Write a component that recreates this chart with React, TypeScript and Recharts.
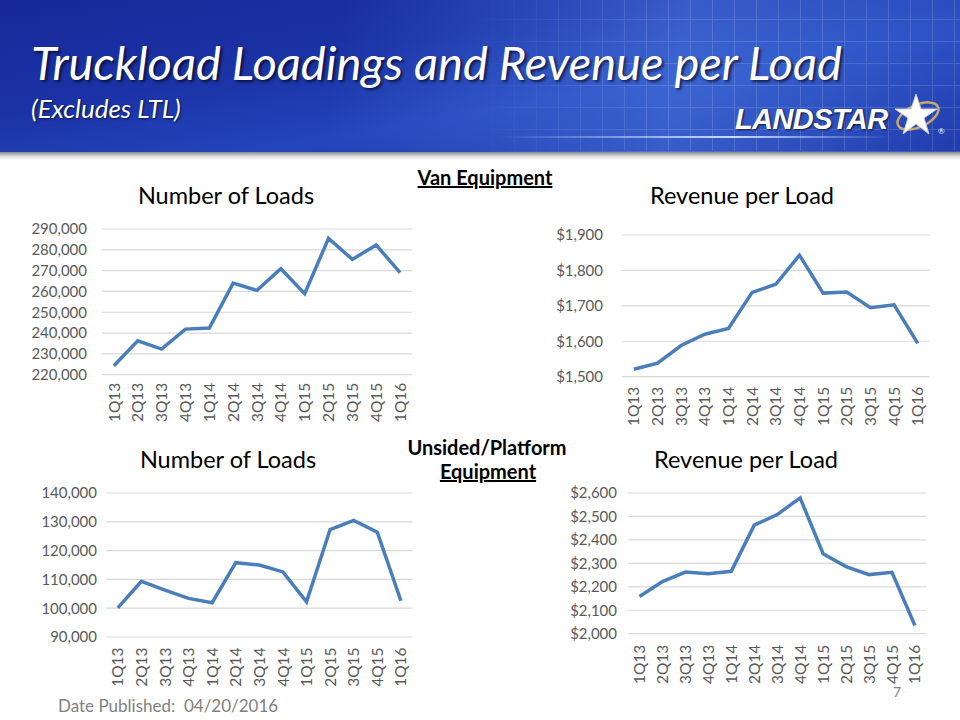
import { CartesianGrid, Line, LineChart, XAxis, YAxis } from "recharts";

const quarters = ["1Q13", "2Q13", "3Q13", "4Q13", "1Q14", "2Q14", "3Q14", "4Q14", "1Q15", "2Q15", "3Q15", "4Q15", "1Q16"];

// Van equipment
const vanLoads = [224300, 236300, 232300, 241900, 242400, 264000, 260500, 270900, 258900, 285500, 275400, 282300, 269000];
const vanRevenue = [1521, 1538, 1588, 1620, 1636, 1738, 1761, 1843, 1736, 1739, 1695, 1703, 1594];

// Unsided / platform equipment
const platformLoads = [100100, 109300, 106300, 103400, 101900, 115800, 115000, 112600, 102200, 127300, 130500, 126400, 102600];
const platformRevenue = [2159, 2222, 2263, 2256, 2266, 2463, 2508, 2579, 2341, 2286, 2252, 2262, 2035];

const vanLoadTicks = [220000, 230000, 240000, 250000, 260000, 270000, 280000, 290000];
const vanRevenueTicks = [1500, 1600, 1700, 1800, 1900];
const platformLoadTicks = [90000, 100000, 110000, 120000, 130000, 140000];
const platformRevenueTicks = [2000, 2100, 2200, 2300, 2400, 2500, 2600];

const FONT = "Lato, 'Noto Sans', sans-serif";
const LINE = "#4a7ebb";
const TICK = "#595959";

const count = (v: number) => v.toLocaleString("en-US");
const dollars = (v: number) => "$" + v.toLocaleString("en-US");

type PanelProps = {
  values: number[];
  ticks: number[];
  format: (v: number) => string;
  plot: { left: number; top: number; right: number; bottom: number };
  yGap: number;
  xGap: number;
};

function QuarterTick(props: any) {
  const { x, y, payload } = props;
  return (
    <text
      x={x}
      y={y}
      transform={`rotate(-90 ${x} ${y})`}
      textAnchor="end"
      dy="0.36em"
      fill={TICK}
      fontSize={15.5}
      fontFamily={FONT}
    >
      {payload.value}
    </text>
  );
}

function Panel({ values, ticks, format, plot, yGap, xGap }: PanelProps) {
  const data = quarters.map((q, i) => ({ q, v: values[i] }));
  const plotW = plot.right - plot.left;
  const plotH = plot.bottom - plot.top;
  const pad = plotW / (quarters.length * 2);
  return (
    <div style={{ position: "absolute", left: plot.left - 90, top: plot.top - 10 }}>
      <LineChart
        width={plotW + 100}
        height={plotH + 70}
        data={data}
        margin={{ top: 10, right: 10, bottom: 0, left: 0 }}
      >
        <CartesianGrid vertical={false} stroke="#d9d9d9" strokeWidth={1.2} />
        <XAxis
          dataKey="q"
          height={60}
          padding={{ left: pad, right: pad }}
          axisLine={false}
          tickLine={false}
          tickSize={0}
          tickMargin={xGap}
          interval={0}
          tick={<QuarterTick />}
        />
        <YAxis
          width={90}
          domain={[ticks[0], ticks[ticks.length - 1]]}
          ticks={ticks}
          interval={0}
          tickFormatter={format}
          axisLine={false}
          tickLine={false}
          tickSize={0}
          tickMargin={yGap}
          tick={{ fill: TICK, fontSize: 15, fontFamily: FONT }}
        />
        <Line
          type="linear"
          dataKey="v"
          stroke={LINE}
          strokeWidth={3.5}
          dot={false}
          isAnimationActive={false}
        />
      </LineChart>
    </div>
  );
}

function Label({ x, y, children, style }: any) {
  return (
    <div
      style={{
        position: "absolute",
        left: x - 150,
        top: y,
        width: 300,
        textAlign: "center",
        transform: "translateY(-50%)",
        fontFamily: FONT,
        lineHeight: 1,
        ...style,
      }}
    >
      {children}
    </div>
  );
}

function Header() {
  return (
    <div style={{ position: "absolute", left: 0, top: 0, width: 960, height: 160, overflow: "hidden" }}>
      <div
        style={{
          position: "absolute",
          inset: 0,
          background:
            "linear-gradient(170deg, #17299a 0%, #1b33a6 35%, #2345bb 60%, #15299a 100%)",
        }}
      />
      <div
        style={{
          position: "absolute",
          inset: 0,
          background:
            "linear-gradient(100deg, rgba(0,0,0,0) 35%, rgba(90,140,240,0.45) 70%, rgba(60,110,220,0.25) 100%)",
        }}
      />
      <div
        style={{
          position: "absolute",
          left: 470,
          top: 0,
          width: 490,
          height: 152,
          opacity: 0.14,
          backgroundImage:
            "repeating-linear-gradient(90deg, #fff 0 1px, transparent 1px 22px), repeating-linear-gradient(0deg, #fff 0 1px, transparent 1px 22px)",
          WebkitMaskImage: "linear-gradient(90deg, transparent, #000 40%)",
        }}
      />
      <div
        style={{
          position: "absolute",
          left: 500,
          top: 136,
          width: 390,
          height: 2,
          background: "linear-gradient(90deg, rgba(255,255,255,0), rgba(220,235,255,0.9) 60%, rgba(255,255,255,0))",
        }}
      />
      <div
        style={{
          position: "absolute",
          left: 0,
          top: 152,
          width: 960,
          height: 8,
          background: "linear-gradient(180deg, #8a8a8a, #d8d8d8 50%, #ffffff)",
        }}
      />
      <div
        style={{
          position: "absolute",
          left: 31,
          top: 39,
          color: "#fff",
          fontFamily: FONT,
          fontStyle: "italic",
          fontSize: 47,
          lineHeight: 1,
          whiteSpace: "nowrap",
          textShadow: "2px 2px 3px rgba(0,0,20,0.7)",
        }}
      >
        Truckload Loadings and Revenue per Load
      </div>
      <div
        style={{
          position: "absolute",
          left: 31,
          top: 95,
          color: "#fff",
          fontFamily: FONT,
          fontStyle: "italic",
          fontSize: 26,
          lineHeight: 1,
          whiteSpace: "nowrap",
          textShadow: "1px 1px 2px rgba(0,0,20,0.7)",
        }}
      >
        (Excludes LTL)
      </div>
      <div
        style={{
          position: "absolute",
          left: 735,
          top: 105,
          color: "#fff",
          fontFamily: "'Liberation Sans', Arial, sans-serif",
          fontStyle: "italic",
          fontWeight: 900,
          fontSize: 29,
          lineHeight: 1,
          letterSpacing: -0.6,
          whiteSpace: "nowrap",
          textShadow: "1px 1px 2px rgba(0,0,20,0.8)",
        }}
      >
        LANDSTAR
      </div>
      <svg style={{ position: "absolute", left: 890, top: 90 }} width={60} height={52}>
        <ellipse cx={28} cy={26} rx={22} ry={11} fill="none" stroke="#c9a96a" strokeWidth={2.5} transform="rotate(-25 28 26)" />
        <polygon
          points="26,4 31,19 47,19 34,28 39,44 26,34 13,44 18,28 5,19 21,19"
          fill="#fff"
          stroke="#ccd"
          strokeWidth={1}
        />
        <text x={48} y={44} fontSize={8} fill="#fff" fontFamily={FONT}>®</text>
      </svg>
    </div>
  );
}

export default function App() {
  return (
    <div
      style={{
        position: "absolute",
        left: 0,
        top: 0,
        width: 960,
        height: 720,
        background: "#fff",
        overflow: "hidden",
        fontFamily: FONT,
      }}
    >
      <Header />

      <Label x={226} y={196} style={{ fontSize: 23.5, color: "#000" }}>Number of Loads</Label>
      <Label x={742} y={196} style={{ fontSize: 23.5, color: "#000" }}>Revenue per Load</Label>
      <Label x={228} y={460} style={{ fontSize: 23.5, color: "#000" }}>Number of Loads</Label>
      <Label x={746} y={460} style={{ fontSize: 23.5, color: "#000" }}>Revenue per Load</Label>

      <Label x={485} y={177} style={{ fontSize: 20, fontWeight: 700, textDecoration: "underline" }}>
        Van Equipment
      </Label>
      <Label x={487} y={447} style={{ fontSize: 20, fontWeight: 700 }}>
        Unsided/Platform
      </Label>
      <Label x={488} y={471} style={{ fontSize: 20, fontWeight: 700, textDecoration: "underline" }}>
        Equipment
      </Label>

      <Panel
        values={vanLoads}
        ticks={vanLoadTicks}
        format={count}
        plot={{ left: 101.7, top: 229.3, right: 411.7, bottom: 375 }}
        yGap={15}
        xGap={8}
      />
      <Panel
        values={vanRevenue}
        ticks={vanRevenueTicks}
        format={dollars}
        plot={{ left: 621.7, top: 235, right: 929.3, bottom: 376.7 }}
        yGap={19}
        xGap={10}
      />
      <Panel
        values={platformLoads}
        ticks={platformLoadTicks}
        format={count}
        plot={{ left: 106, top: 493.3, right: 412.7, bottom: 637.3 }}
        yGap={9}
        xGap={10.5}
      />
      <Panel
        values={platformRevenue}
        ticks={platformRevenueTicks}
        format={dollars}
        plot={{ left: 628.3, top: 493.3, right: 926.7, bottom: 634 }}
        yGap={11}
        xGap={11}
      />

      <div
        style={{
          position: "absolute",
          left: 58,
          top: 697,
          fontSize: 17,
          color: "#7f7f7f",
          lineHeight: 1,
          whiteSpace: "pre",
        }}
      >
        {"Date Published:  04/20/2016"}
      </div>
      <div style={{ position: "absolute", left: 893, top: 685, fontSize: 14, color: "#7f7f7f", lineHeight: 1 }}>7</div>
    </div>
  );
}
